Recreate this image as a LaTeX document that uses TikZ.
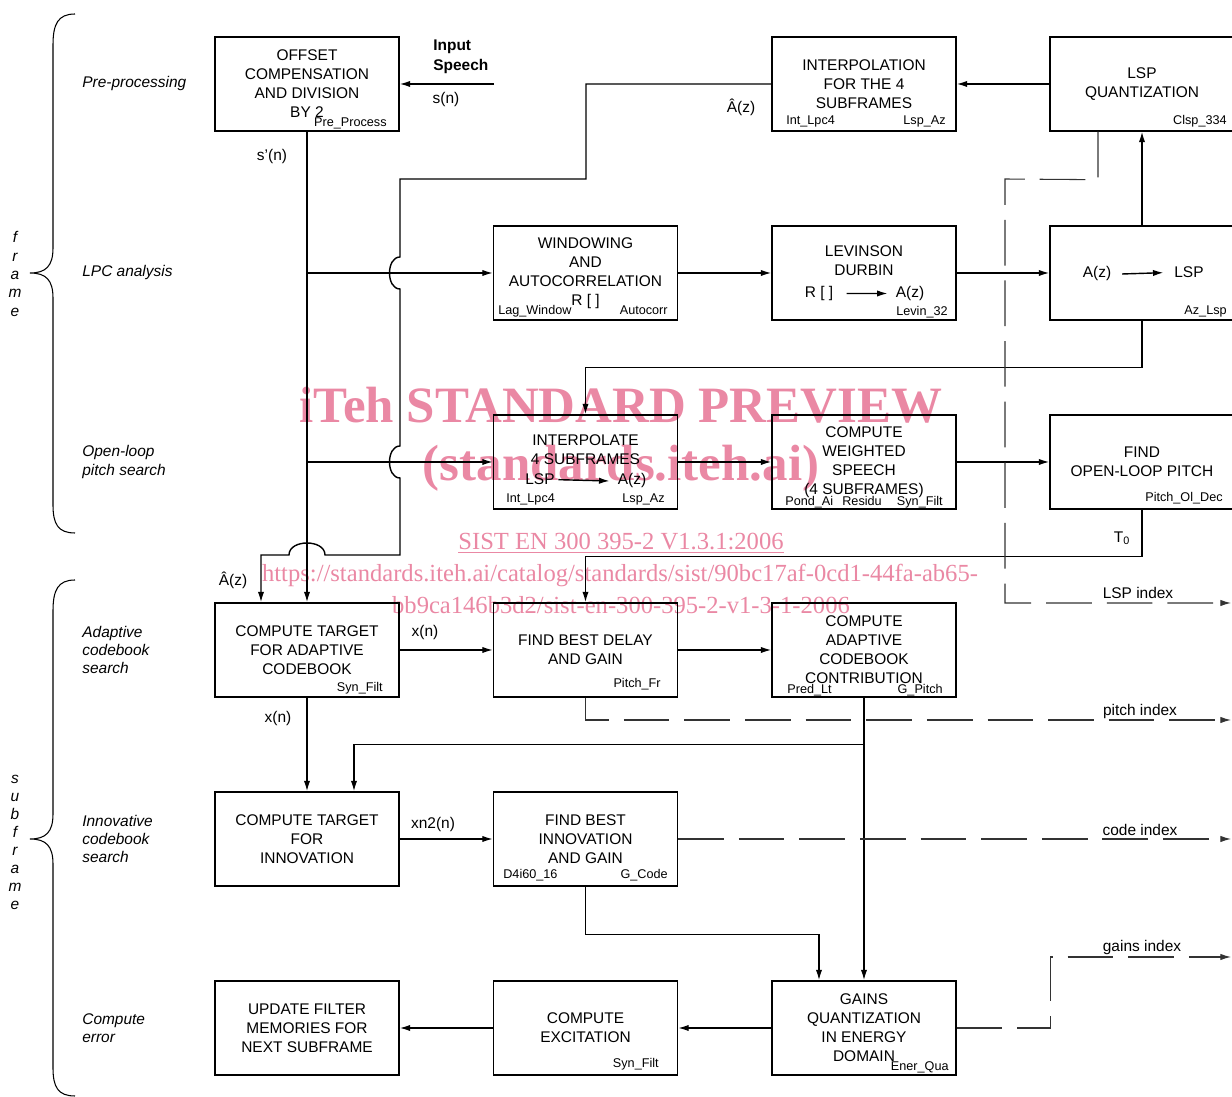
\documentclass[tikz,border=0pt]{standalone}
\usepackage{fontspec}
\setmainfont{Liberation Sans}
\newfontfamily\wmfont{Liberation Serif}
\usetikzlibrary{arrows.meta,calc}

\definecolor{wmpink}{RGB}{234,136,164}

\tikzset{
  blk/.style={draw, line width=0.8pt, minimum width=3.68cm, minimum height=1.88cm,
    align=center, inner sep=0pt, font=\fontsize{8.8}{10.8}\selectfont},
  tag/.style={inner sep=0pt, font=\fontsize{7.2}{8}\selectfont},
  lbl/.style={inner sep=0pt, font=\fontsize{8.8}{10.8}\selectfont},
  side/.style={inner sep=0pt, align=left, anchor=west, font=\fontsize{8.8}{10.3}\selectfont\itshape},
  flow/.style={line width=0.8pt, -{Latex[length=6pt,width=3.6pt]}},
  idx/.style={line width=0.6pt, black!80, dash pattern=on 26pt off 8.5pt, -{Latex[length=6pt,width=3.6pt]}},
  brc/.style={line width=0.6pt},
  wm/.style={text=wmpink, inner sep=0pt, anchor=base},
}

\begin{document}
\begin{tikzpicture}[x=0.02cm, y=-0.02cm]
  \useasboundingbox (0,0) rectangle (1232,1097);

  \node[wm, font=\wmfont\bfseries\fontsize{29}{30}\selectfont] (wm1) at (621,423) {iTeh STANDARD PREVIEW};
  \node[wm, font=\wmfont\bfseries\fontsize{29}{30}\selectfont] (wm2) at (621,481) {(standards.iteh.ai)};
  \node[wm, font=\wmfont\fontsize{14}{15}\selectfont] (wm3) at (621,550) {\underline{SIST EN 300 395-2 V1.3.1:2006}};
  \node[wm, font=\wmfont\fontsize{14}{15}\selectfont] (wm4) at (620,582) {https://standards.iteh.ai/catalog/standards/sist/90bc17af-0cd1-44fa-ab65-};
  \node[wm, font=\wmfont\fontsize{14}{15}\selectfont] (wm5) at (621,614) {bb9ca146b3d2/sist-en-300-395-2-v1-3-1-2006};

  \draw[brc] (75,14) .. controls (58,14) and (53,24) .. (53,45) -- (53,248)
    .. controls (53,266) and (46,273) .. (30,273) .. controls (46,273) and (53,280) .. (53,298)
    -- (53,505) .. controls (53,524) and (58,533) .. (75,533);
  \draw[brc] (75,580) .. controls (58,580) and (53,590) .. (53,611) -- (53,814)
    .. controls (53,832) and (46,839) .. (30,839) .. controls (46,839) and (53,846) .. (53,864)
    -- (53,1068) .. controls (53,1087) and (58,1096) .. (75,1096);
  \node[side, anchor=center, align=center, font=\fontsize{8.8}{10.5}\selectfont\itshape] (frm) at (15,274) {f\\r\\a\\m\\e};
  \node[side, anchor=center, align=center, font=\fontsize{8.8}{10.25}\selectfont\itshape] (sfrm) at (15,842) {s\\u\\b\\f\\r\\a\\m\\e};

  \node[side] (pp) at (82,84) {Pre-processing};
  \node[side] (lpc) at (82,273) {LPC analysis};
  \node[side] (olps) at (82,462) {Open-loop\\pitch search};
  \node[side] (acs) at (82,650) {Adaptive\\codebook\\search};
  \node[side] (ics) at (82,839) {Innovative\\codebook\\search};
  \node[side] (ce) at (82,1028) {Compute\\error};

  \node[blk] (pre) at (307,84) {OFFSET\\COMPENSATION\\AND DIVISION\\BY 2};
  \node[blk] (intp) at (864,84) {INTERPOLATION\\FOR THE 4\\SUBFRAMES};
  \node[blk] (lsq) at (1142,84) {LSP\\QUANTIZATION};
  \node[blk] (win) at (585.5,273) {WINDOWING\\AND\\AUTOCORRELATION\\R [ ]};
  \node[blk] (lev) at (864,273) {LEVINSON\\DURBIN\\\strut};
  \node[blk] (azl) at (1142,273) {};
  \node[blk] (itp) at (585.5,462) {INTERPOLATE\\4 SUBFRAMES\\\strut};
  \node[blk] (wsp) at (864,462) {COMPUTE\\WEIGHTED\\SPEECH\\(4 SUBFRAMES)};
  \node[blk] (olp) at (1142,462) {FIND\\OPEN-LOOP PITCH};
  \node[blk] (cta) at (307,650) {COMPUTE TARGET\\FOR ADAPTIVE\\CODEBOOK};
  \node[blk] (fbd) at (585.5,650) {FIND BEST DELAY\\AND GAIN};
  \node[blk] (acc) at (864,650) {COMPUTE\\ADAPTIVE\\CODEBOOK\\CONTRIBUTION};
  \node[blk] (cti) at (307,839) {COMPUTE TARGET\\FOR\\INNOVATION};
  \node[blk] (fbi) at (585.5,839) {FIND BEST\\INNOVATION\\AND GAIN};
  \node[blk] (upd) at (307,1028) {UPDATE FILTER\\MEMORIES FOR\\NEXT SUBFRAME};
  \node[blk] (exc) at (585.5,1028) {COMPUTE\\EXCITATION};
  \node[blk] (gq) at (864,1028) {GAINS\\QUANTIZATION\\IN ENERGY\\DOMAIN};

  \node[tag, anchor=base east] (t1) at (387,126.5) {Pre\_Process};
  \node[tag, anchor=base west] (t2) at (786,124.5) {Int\_Lpc4};
  \node[tag, anchor=base east] (t3) at (946,124.5) {Lsp\_Az};
  \node[tag, anchor=base east] (t4) at (1227,124.5) {Clsp\_334};
  \node[tag, anchor=base west] (t5) at (498,314.5) {Lag\_Window};
  \node[tag, anchor=base east] (t6) at (668,314.5) {Autocorr};
  \node[tag, anchor=base east] (t7) at (948,315.5) {Levin\_32};
  \node[tag, anchor=base east] (t8) at (1227,314.5) {Az\_Lsp};
  \node[tag, anchor=base west] (t9) at (506,502.5) {Int\_Lpc4};
  \node[tag, anchor=base east] (t10) at (665,502.5) {Lsp\_Az};
  \node[tag, anchor=base west] (t11) at (785,505.5) {Pond\_Ai};
  \node[tag, anchor=base west] (t12) at (842,505.5) {Residu};
  \node[tag, anchor=base east] (t13) at (943,505.5) {Syn\_Filt};
  \node[tag, anchor=base east] (t14) at (1223,501.5) {Pitch\_Ol\_Dec};
  \node[tag, anchor=base east] (t15) at (383,691.5) {Syn\_Filt};
  \node[tag, anchor=base east] (t16) at (661,687.5) {Pitch\_Fr};
  \node[tag, anchor=base west] (t17) at (787,693.5) {Pred\_Lt};
  \node[tag, anchor=base east] (t18) at (943,693.5) {G\_Pitch};
  \node[tag, anchor=base west] (t19) at (503,878.5) {D4i60\_16};
  \node[tag, anchor=base east] (t20) at (668,878.5) {G\_Code};
  \node[tag, anchor=base east] (t21) at (659,1067.5) {Syn\_Filt};
  \node[tag, anchor=base east] (t22) at (949,1070.5) {Ener\_Qua};

  \node[lbl, anchor=base] (levr) at (819,297.5) {R [ ]};
  \node[lbl, anchor=base] (leva) at (910,297.5) {A(z)};
  \draw[flow] ([xshift=7.4pt]levr.east) -- ([xshift=-4.5pt]leva.west);
  \node[lbl, anchor=base] (aza) at (1097,278) {A(z)};
  \node[lbl, anchor=base] (azs) at (1189,278) {LSP};
  \draw[flow] ([xshift=6pt]aza.east) -- ([xshift=-6pt]azs.west);
  \node[lbl, anchor=base] (itl) at (540,485) {LSP};
  \node[lbl, anchor=base] (ita) at (632,485) {A(z)};
  \draw[flow] ([xshift=2pt]itl.east) -- ([xshift=-4.5pt]ita.west);

  \node[lbl, align=left, anchor=west, font=\bfseries\fontsize{8.8}{11.4}\selectfont] (insp) at (433,57) {Input\\Speech};
  \node[lbl] (sn) at (446,100) {s(n)};
  \node[lbl] (spn) at (272,157) {s'(n)};
  \node[lbl] (ah1) at (741,107) {Â(z)};
  \node[lbl] (ah2) at (233,580) {Â(z)};
  \node[lbl] (tzero) at (1122,538) {T\textsubscript{0}};
  \node[lbl] (xn1) at (425,633) {x(n)};
  \node[lbl] (xn2) at (278,719) {x(n)};
  \node[lbl] (xnn) at (433,825) {xn2(n)};
  \node[lbl] (lspi) at (1138,593) {LSP index};
  \node[lbl] (piti) at (1140,712) {pitch index};
  \node[lbl] (codi) at (1140,830) {code index};
  \node[lbl] (gaii) at (1142,948) {gains index};

  \coordinate (insrc) at (494,84);
  \coordinate (lspout) at (1231,603);
  \coordinate (pitout) at (1231,720);
  \coordinate (codout) at (1231,839);
  \coordinate (gaiout) at (1231,957);

  \draw[flow] (insrc) -- (pre.east);
  \draw[flow] (pre.south) -- (cta.north);
  \draw[flow] (pre.south |- win.west) -- (win.west);
  \draw[flow] (pre.south |- itp.west) -- (itp.west);
  \draw[flow] (win) -- (lev);
  \draw[flow] (lev) -- (azl);
  \draw[flow] (azl) -- (lsq);
  \draw[flow] (lsq) -- (intp);
  \draw[flow] (azl.south) -- ++(0,47) -| (itp.north);
  \draw[flow] (itp) -- (wsp);
  \draw[flow] (wsp) -- (olp);
  \draw[flow] (olp.south) -- ++(0,47) -| (fbd.north);
  \draw[flow] (intp.west) -- (586,84) -- (586,179) -- (400,179) -- (400,257)
    .. controls (386,257) and (386,289) .. (400,289) -- (400,446)
    .. controls (386,446) and (386,478) .. (400,478) -- (400,555) -- (325,555)
    .. controls (325,539) and (289,539) .. (289,555) -- (261,555) -- ($(cta.north)+(-46,0)$);
  \draw[flow] (cta) -- (fbd);
  \draw[flow] (fbd) -- (acc);
  \draw[flow] (cta) -- (cti);
  \draw[flow] (acc) -- (gq);
  \coordinate (tapc) at ($(acc.south)+(0,47)$);
  \draw[flow] (tapc) -| ($(cti.north)+(47,0)$);
  \draw[flow] (cti) -- (fbi);
  \draw[flow] (fbi.south) -- ++(0,48) -| ($(gq.north)+(-45,0)$);
  \draw[flow] (gq) -- (exc);
  \draw[flow] (exc) -- (upd);

  \draw[idx] ($(lsq.south)+(-44,0)$) -- ++(0,48) -- (1005,179) -- (1005,603) -- (lspout);
  \draw[idx] (fbd.south) |- (pitout);
  \draw[idx] (fbi.east) -- (codout);
  \draw[idx] (gq.east) -- ++(94,0) |- (gaiout);
\end{tikzpicture}
\end{document}
